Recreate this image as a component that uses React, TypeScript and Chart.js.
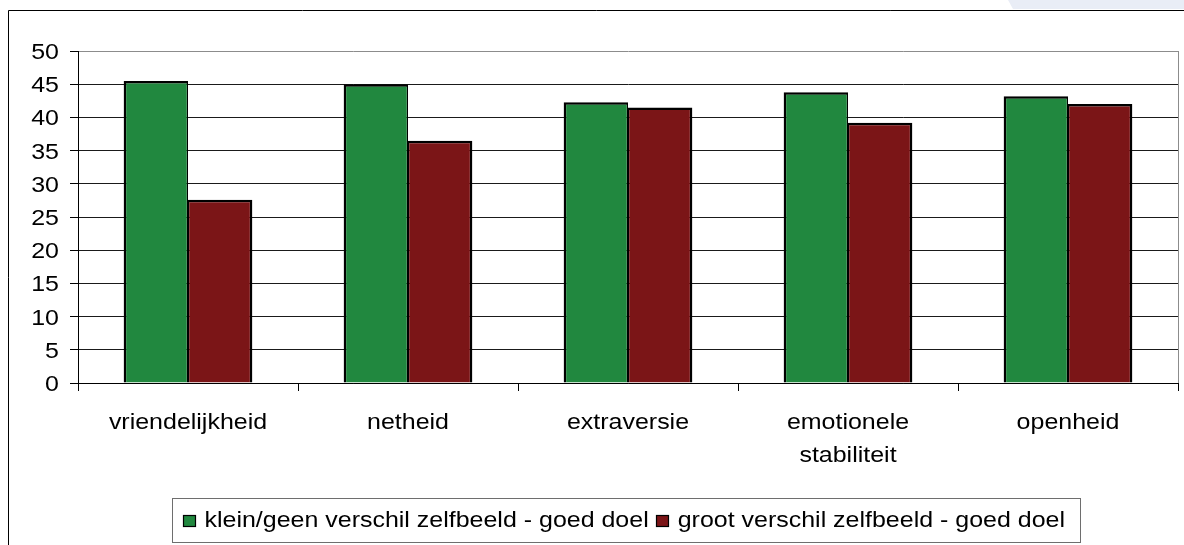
import React, { useEffect, useRef } from 'react';
import { Chart, registerables } from 'chart.js';

Chart.register(...registerables);

// Chart data
const categories: string[][] = [
  ['vriendelijkheid'],
  ['netheid'],
  ['extraversie'],
  ['emotionele', 'stabiliteit'],
  ['openheid'],
];
const seriesNames = [
  'klein/geen verschil zelfbeeld - goed doel',
  'groot verschil zelfbeeld - goed doel',
];
const kleinValues = [45.5, 45.0, 42.3, 43.8, 43.2];
const grootValues = [27.6, 36.5, 41.5, 39.2, 42.0];
const yTickValues = [0, 5, 10, 15, 20, 25, 30, 35, 40, 45, 50];

const seriesColors = ['#21883f', '#7b1517'];
const FONT = '22px "Liberation Sans", Arial, sans-serif';
const STRETCH = 1.135;

function drawText(
  ctx: CanvasRenderingContext2D,
  text: string,
  x: number,
  y: number,
  align: CanvasTextAlign
) {
  ctx.save();
  ctx.translate(x, y);
  ctx.scale(STRETCH, 1);
  ctx.font = FONT;
  ctx.fillStyle = '#000';
  ctx.textAlign = align;
  ctx.textBaseline = 'alphabetic';
  ctx.fillText(text, 0, 0);
  ctx.restore();
}

function textWidth(ctx: CanvasRenderingContext2D, text: string) {
  ctx.save();
  ctx.font = FONT;
  const w = ctx.measureText(text).width * STRETCH;
  ctx.restore();
  return w;
}

// Frame, axis labels and legend drawn around the plot
const decorations = {
  id: 'decorations',
  afterDraw(chart: any) {
    const ctx: CanvasRenderingContext2D = chart.ctx;
    const area = chart.chartArea;
    const xScale = chart.scales.x;
    const yScale = chart.scales.y;

    ctx.save();
    // pale shape in the top-right corner
    ctx.fillStyle = '#e9edf6';
    ctx.beginPath();
    ctx.moveTo(1008, 0);
    ctx.lineTo(1184, 0);
    ctx.lineTo(1184, 9);
    ctx.lineTo(1013, 9);
    ctx.closePath();
    ctx.fill();

    // outer frame (left and top edges)
    ctx.strokeStyle = '#000';
    ctx.lineWidth = 1;
    ctx.beginPath();
    ctx.moveTo(8.5, 545);
    ctx.lineTo(8.5, 10.5);
    ctx.lineTo(1184, 10.5);
    ctx.stroke();

    // right edge of the plot area
    ctx.strokeStyle = '#8c8c8c';
    ctx.beginPath();
    ctx.moveTo(Math.round(area.right) + 0.5, area.top);
    ctx.lineTo(Math.round(area.right) + 0.5, area.bottom);
    ctx.stroke();
    ctx.restore();

    // y tick labels
    yTickValues.forEach((v) => {
      const y = yScale.getPixelForValue(v);
      drawText(ctx, String(v), area.left - 19, y + 8, 'right');
    });

    // category labels
    categories.forEach((lines, i) => {
      const x = xScale.getPixelForValue(i);
      lines.forEach((line, j) => {
        drawText(ctx, line, x, area.bottom + 46 + j * 33, 'center');
      });
    });

    // legend
    const w1 = textWidth(ctx, seriesNames[0]);
    const w2 = textWidth(ctx, seriesNames[1]);
    const padL = 10;
    const mark = 13;
    const gapMT = 9;
    const gapTM = 7;
    const padR = 16;
    const boxW = padL + mark + gapMT + w1 + gapTM + mark + gapMT + w2 + padR;
    const cx = (area.left + area.right) / 2 - 1.5;
    const boxL = Math.round(cx - boxW / 2) + 0.5;
    const boxT = 498.5;
    const boxH = 44;
    ctx.save();
    ctx.fillStyle = '#fff';
    ctx.fillRect(boxL, boxT, boxW, boxH);
    ctx.strokeStyle = '#6e6e6e';
    ctx.lineWidth = 1;
    ctx.strokeRect(boxL, boxT, Math.round(boxW), boxH);

    const markY = 515;
    let x = boxL + padL;
    const items = [
      { color: seriesColors[0], text: seriesNames[0], w: w1 },
      { color: seriesColors[1], text: seriesNames[1], w: w2 },
    ];
    items.forEach((it, k) => {
      const mx = Math.round(x);
      ctx.fillStyle = it.color;
      ctx.fillRect(mx, markY, mark, mark - 1);
      ctx.strokeStyle = '#000';
      ctx.lineWidth = 1.2;
      ctx.strokeRect(mx + 0.5, markY + 0.5, mark - 1, mark - 2);
      x += mark + gapMT;
      drawText(ctx, it.text, x, 527, 'left');
      x += it.w + (k === 0 ? gapTM : 0);
    });
    ctx.restore();
  },
};

export default function App() {
  const canvasRef = useRef<HTMLCanvasElement | null>(null);

  useEffect(() => {
    const canvas = canvasRef.current;
    if (!canvas) return;
    const chart = new Chart(canvas, {
      type: 'bar',
      data: {
        labels: categories.map((c) => c.join(' ')),
        datasets: [
          {
            label: seriesNames[0],
            data: kleinValues,
            backgroundColor: seriesColors[0],
            borderColor: '#000',
            borderWidth: { top: 2.5, left: 2.5, right: 1.25, bottom: 0 },
            borderSkipped: false,
          },
          {
            label: seriesNames[1],
            data: grootValues,
            backgroundColor: seriesColors[1],
            borderColor: '#000',
            borderWidth: { top: 2.5, left: 1.25, right: 2.5, bottom: 0 },
            borderSkipped: false,
          },
        ],
      },
      options: {
        animation: false,
        responsive: false,
        devicePixelRatio: 1,
        layout: { padding: { top: 51, right: 6, left: 0, bottom: 0 } },
        datasets: {
          bar: { categoryPercentage: 0.585, barPercentage: 1.0 },
        },
        plugins: {
          legend: { display: false },
          tooltip: { enabled: false },
          title: { display: false },
        },
        scales: {
          x: {
            offset: true,
            grid: {
              offset: true,
              drawOnChartArea: false,
              drawTicks: true,
              tickLength: 8,
              color: '#000',
              lineWidth: 1,
            },
            border: { color: '#000', width: 1 },
            ticks: { display: false },
            afterFit: (s: any) => {
              s.height = 162;
            },
          },
          y: {
            min: 0,
            max: 50,
            ticks: { display: false, stepSize: 5 },
            grid: {
              color: (c: any) => (c.tick && c.tick.value === 50 ? '#8c8c8c' : '#1a1a1a'),
              tickColor: '#000',
              tickLength: 8,
              lineWidth: 1,
            },
            border: { color: '#000', width: 1 },
            afterFit: (s: any) => {
              s.width = 78;
            },
          },
        },
      },
      plugins: [decorations],
    });
    return () => chart.destroy();
  }, []);

  return (
    <div style={{ position: 'fixed', left: 0, top: 0, width: 1184, height: 545, background: '#fff' }}>
      <canvas ref={canvasRef} width={1184} height={545} style={{ display: 'block' }} />
    </div>
  );
}
